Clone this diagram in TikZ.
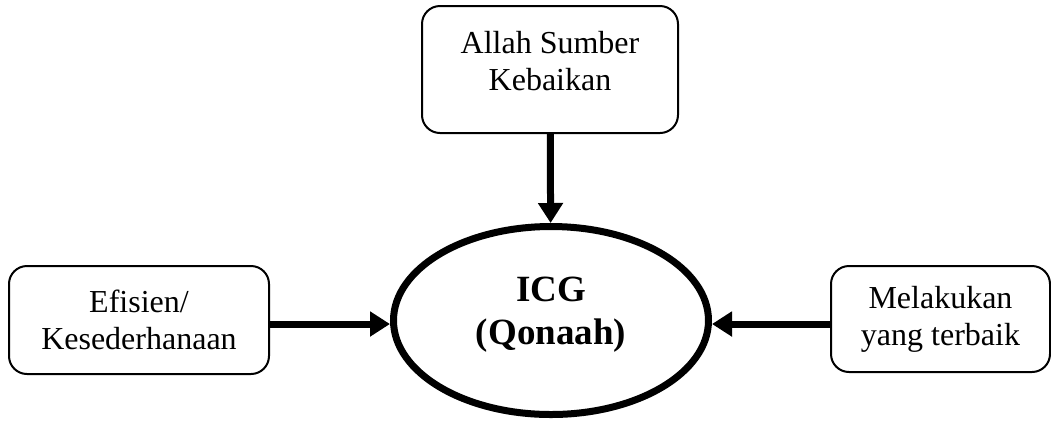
\documentclass[tikz,border=0pt]{standalone}
\usepackage{fontspec}
\setmainfont{Liberation Serif}
\usetikzlibrary{shapes.geometric,arrows.meta,positioning}
\tikzset{kotak/.style={draw, rounded corners=9pt, line width=1pt, align=center, font=\fontsize{16}{18.5}\selectfont},
  teks/.style={inner sep=0pt, align=center, font=\fontsize{16}{18.5}\selectfont},
  lonjong/.style={draw, ellipse, line width=3.5pt, minimum width=157.5pt, minimum height=94pt, inner sep=0pt},
  tebal/.style={inner sep=0pt, align=center, font=\fontsize{18.5}{21.5}\selectfont\bfseries},
  panah/.style={-{Triangle[length=10pt,width=12pt]}, line width=3.5pt}}

\begin{document}
\begin{tikzpicture}[x=0.5pt,y=-0.5pt]
   \useasboundingbox (0,0) rectangle (1051,420);
   \node[lonjong] (icg) at (551,320.5) {};
   \node[tebal] (icgteks) at (551,314.5) {ICG\\(Qonaah)};
   \node[kotak, minimum width=128pt, minimum height=63.5pt] (allah) at (550,69.5) {};
   \node[teks, anchor=north] (allahteks) at (550,31) {Allah Sumber\\Kebaikan};
   \node[kotak, minimum width=130pt, minimum height=54pt] (efisien) at (139,320) {Efisien/\\Kesederhanaan};
   \node[kotak, minimum width=109.5pt, minimum height=53pt] (terbaik) at (940.5,319) {Melakukan\\yang terbaik};
   \draw[panah] (allah) -- (icg);
   \draw[panah] (efisien.east |- 0,324) -- (icg.west |- 0,324);
   \draw[panah] (terbaik.west |- 0,324) -- (icg.east |- 0,324);
\end{tikzpicture}
\end{document}
